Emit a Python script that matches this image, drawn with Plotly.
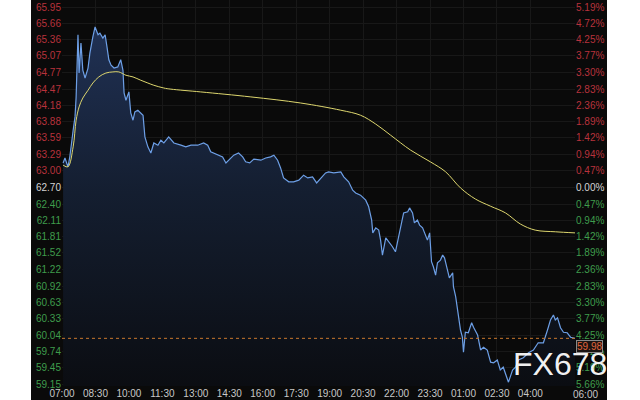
import plotly.graph_objects as go
from datetime import datetime, timedelta

# ---------------- data ----------------
price_times = ["07:03","07:08","07:16","07:21","07:30","07:35","07:38","07:43","07:46","07:51",
               "07:56","08:02","08:10","08:15","08:23","08:29","08:37","08:42","08:50","08:56",
               "09:01","09:06","09:12","09:20","09:30","09:38","09:44","09:47","09:52","10:00",
               "10:05","10:11","10:16","10:24","10:38","10:43","10:51","10:59","11:07","11:18",
               "11:26","11:34","11:47","12:01","12:20","12:33","12:47","13:05","13:21","13:32",
               "13:40","13:48","14:02","14:12","14:21","14:29","14:42","14:55","15:06","15:14",
               "15:25","15:36","15:55","16:08","16:21","16:30","16:40","16:48","16:56","17:10",
               "17:23","17:37","17:50","18:01","18:14","18:25","18:36","18:49","18:57","19:11",
               "19:30","19:38","19:51","20:02","20:10","20:23","20:37","20:45","20:53","20:56",
               "21:04","21:12","21:17","21:22","21:31","21:39","21:49","21:57","22:03","22:11",
               "22:19","22:30","22:35","22:43","22:48","22:56","23:02","23:10","23:18","23:23",
               "23:29","23:34","23:39","23:45","23:50","23:58","00:04","00:09","00:17","00:22",
               "00:31","00:33","00:39","00:44","00:47","00:52","00:57","01:00","01:05","01:13",
               "01:22","01:27","01:38","01:46","01:54","02:04","02:13","02:21","02:31","02:39",
               "02:47","02:58","03:01","03:12","03:20","03:28","03:41","03:55","04:08","04:21",
               "04:35","04:46","04:54","05:02","05:07","05:13","05:21","05:29","05:39","05:48",
               "05:56","06:00"]
price_values = [63.14,63.23,63.07,63.25,63.73,63.97,64.33,65.45,64.76,65.30,
                64.81,64.67,64.85,65.12,65.41,65.59,65.45,65.48,65.39,65.45,
                65.23,65.00,64.90,64.85,64.87,65.00,64.81,64.40,64.27,64.42,
                64.04,63.91,64.06,64.09,64.00,63.61,63.43,63.32,63.50,63.46,
                63.55,63.50,63.61,63.50,63.46,63.43,63.46,63.46,63.50,63.46,
                63.34,63.32,63.28,63.25,63.14,63.19,63.28,63.32,63.25,63.16,
                63.14,63.21,63.19,63.23,63.25,63.28,63.19,63.05,62.87,62.80,
                62.80,62.83,62.92,62.87,62.89,62.78,62.87,62.96,62.98,62.96,
                62.98,62.89,62.80,62.65,62.60,62.56,62.47,62.35,62.11,61.88,
                61.97,61.93,61.75,61.48,61.79,61.72,61.63,61.54,61.75,62.02,
                62.24,62.26,62.33,62.24,62.06,62.11,62.02,61.97,61.84,61.75,
                61.88,61.36,61.27,61.12,61.34,61.39,61.48,61.43,61.21,61.07,
                61.16,60.91,60.73,60.49,60.31,60.13,60.00,59.73,60.09,60.08,
                60.26,60.18,60.04,59.77,59.82,59.77,59.55,59.54,59.59,59.41,
                59.46,59.27,59.19,59.41,59.46,59.59,59.63,59.72,59.77,59.90,
                59.90,60.13,60.31,60.40,60.31,60.35,60.17,60.09,60.08,60.00,
                59.99,59.98]

avg_times = ["07:03","07:16","07:30","07:38","07:46","07:56","08:10","08:23","08:39","08:58",
             "09:17","09:33","09:52","10:11","10:32","10:51","11:07","11:34","11:53","13:13",
             "15:28","17:42","19:30","20:23","21:04","21:44","22:38","23:31","00:12","00:52",
             "01:32","02:13","02:53","03:33","04:13","05:07","06:00"]
avg_values = [63.10,63.07,63.43,63.91,64.15,64.31,64.45,64.58,64.69,64.76,
              64.78,64.78,64.72,64.69,64.63,64.58,64.54,64.49,64.47,64.42,
              64.33,64.22,64.09,64.00,63.84,63.64,63.37,63.16,62.98,62.69,
              62.49,62.36,62.24,62.04,61.93,61.90,61.88]

prev_close = 62.70
last_price = 59.98

left_tick_labels = ["65.95","65.66","65.36","65.07","64.77","64.47","64.18","63.88","63.59",
                    "63.29","63.00","62.70","62.40","62.11","61.81","61.52","61.22","60.92",
                    "60.63","60.33","60.04","59.74","59.45","59.15"]
right_tick_labels = ["5.19%","4.72%","4.25%","3.77%","3.30%","2.83%","2.36%","1.89%","1.42%",
                     "0.94%","0.47%","0.00%","0.47%","0.94%","1.42%","1.89%","2.36%","2.83%",
                     "3.30%","3.77%","4.25%","4.72%","5.19%","5.66%"]
x_tick_labels = ["07:00","08:30","10:00","11:30","13:00","14:30","16:00","17:30","19:00",
                 "20:30","22:00","23:30","01:00","02:30","04:00"]
x_end_label = "06:00"
watermark = "FX678"

# ---------------- helpers ----------------
def to_dt(hhmm):
    h, m = map(int, hhmm.split(":"))
    d = datetime(2024, 1, 1, h, m)
    if h < 7:
        d += timedelta(days=1)
    return d

RED = "#b8323c"
GREEN = "#3f9c4c"
NEUTRAL = "#d4d4d4"

def colored(labels, values):
    out = []
    for lab, v in zip(labels, values):
        c = NEUTRAL if abs(v - prev_close) < 1e-9 else (RED if v > prev_close else GREEN)
        out.append(f'<span style="color:{c}">{lab}</span>')
    return out

tick_vals = [float(v) for v in left_tick_labels]
px_t = [to_dt(t) for t in price_times]
av_t = [to_dt(t) for t in avg_times]

x0 = to_dt("07:00")
x1 = to_dt(x_end_label)

H_PLOT = 386
y_hi = 65.95 + 7 / 55.5
y_lo = 65.95 - (H_PLOT - 7) / 55.5

FONT = "Liberation Sans, Arial"

fig = go.Figure()

fig.add_trace(go.Scatter(
    x=px_t, y=price_values, mode="lines",
    line=dict(color="#6d9fe6", width=1.2),
    fill="tozeroy",
    fillgradient=dict(type="vertical", start=y_lo, stop=y_hi,
                      colorscale=[[0, "#0b0d12"], [0.5, "#141e30"], [1, "#22345a"]]),
    hoverinfo="skip", showlegend=False))

fig.add_trace(go.Scatter(
    x=av_t, y=avg_values, mode="lines",
    line=dict(color="#ddd66e", width=1, shape="spline"),
    hoverinfo="skip", showlegend=False))

# invisible trace for right axis
fig.add_trace(go.Scatter(x=[x0], y=[prev_close], yaxis="y2", mode="markers",
                         marker=dict(opacity=0), hoverinfo="skip", showlegend=False))

fig.add_shape(type="rect", xref="paper", yref="paper",
              x0=(31 - 62) / 513, x1=(607 - 62) / 513, y0=-(400 - H_PLOT) / H_PLOT, y1=1,
              fillcolor="#0a0a0a", line=dict(width=0), layer="below")

fig.add_shape(type="line", xref="paper", yref="y", x0=0, x1=1,
              y0=last_price, y1=last_price,
              line=dict(color="#c8782e", width=1, dash="dot"))

fig.add_annotation(x=1, xref="paper", y=last_price, yref="y", xanchor="left", yanchor="top",
                   text=str(last_price), showarrow=False, xshift=1, yshift=-2,
                   font=dict(color="#e0643c", size=10, family=FONT),
                   bgcolor="#1a1412", bordercolor="#8a8a8a", borderwidth=1, borderpad=0)

fig.add_annotation(x=x1, xref="x", y=0, yref="paper", yanchor="top", xanchor="center",
                   text=x_end_label, showarrow=False, xshift=10, yshift=-1,
                   font=dict(color="#c8c8c8", size=10, family=FONT))

fig.add_annotation(x=(560 - 62) / 513, xref="paper", y=1 - 364 / H_PLOT, yref="paper",
                   xanchor="center", yanchor="middle", text=watermark, showarrow=False,
                   font=dict(color="rgba(255,255,255,0.96)", size=32, family=FONT))

fig.update_layout(
    width=640, height=400,
    margin=dict(l=62, r=65, t=0, b=400 - H_PLOT, autoexpand=False),
    paper_bgcolor="white", plot_bgcolor="#0a0a0a",
    font=dict(family=FONT, size=10, color="#c8c8c8"),
    xaxis=dict(range=[x0, x1], tickvals=[to_dt(t) for t in x_tick_labels],
               ticktext=x_tick_labels, showgrid=True, gridcolor="#181818",
               zeroline=False, showline=False, ticks="", automargin=False,
               tickfont=dict(color="#c8c8c8", size=10)),
    yaxis=dict(range=[y_lo, y_hi], tickvals=tick_vals,
               ticktext=colored(left_tick_labels, tick_vals), automargin=False,
               showgrid=True, gridcolor="#181818", zeroline=False, showline=False,
               ticks="", tickfont=dict(size=10)),
    yaxis2=dict(range=[y_lo, y_hi], overlaying="y", side="right", tickvals=tick_vals,
                ticktext=colored(right_tick_labels, tick_vals), showgrid=False,
                automargin=False, zeroline=False, showline=False, ticks="",
                tickfont=dict(size=10)),
)

fig.write_html("out.html", post_script="document.body.style.margin='0';",
               config={"displayModeBar": False})
